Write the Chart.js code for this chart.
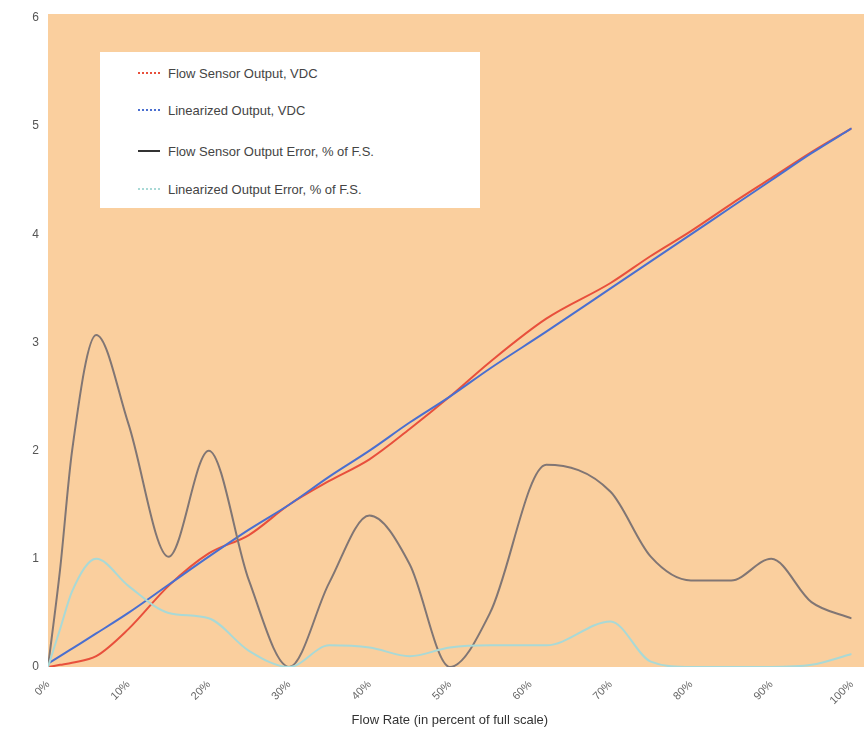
<!DOCTYPE html>
<html>
<head>
<meta charset="utf-8">
<script src="https://cdn.jsdelivr.net/npm/chart.js@4/dist/chart.umd.min.js"></script>
<style>
    body { margin: 0; background: #fff; }
    .wrap { position: relative; width: 864px; height: 732px; }
    #legendBox {
        position: absolute; left: 100px; top: 52px; width: 380px; height: 156px;
        background: #fff; font-family: "Liberation Sans", Arial, sans-serif; font-size: 13px; color: #444;
    }
    .lgItem { position: absolute; left: 38px; height: 16px; display: flex; align-items: center; }
    .lgLine { width: 22px; height: 0; margin-right: 8px; border-top-width: 2px; }
</style>
</head>
<body>
<div class="wrap">
    <canvas id="c" width="864" height="732"></canvas>
    <div id="legendBox"></div>
</div>
<script>
/* x positions, percent of full scale */
const flowPct = [0, 1.5, 3, 6, 10, 15, 20, 25, 30, 35, 40, 45, 50, 55, 62, 70, 75, 80, 85, 90, 95, 100];

/* series values */
const sensorVdc = [0.0, 0.02, 0.04, 0.1, 0.35, 0.75, 1.05, 1.22, 1.5, 1.72, 1.92, 2.2, 2.5, 2.82, 3.22, 3.55, 3.8, 4.03, 4.28, 4.52, 4.76, 4.98];
const linearVdc = [0.03, 0.1, 0.17, 0.31, 0.5, 0.76, 1.02, 1.27, 1.5, 1.76, 2.0, 2.26, 2.5, 2.76, 3.1, 3.5, 3.75, 4.0, 4.25, 4.5, 4.75, 4.98];
const sensorErr = [0, 0.9, 2.0, 3.07, 2.25, 1.02, 2.0, 0.8, 0.0, 0.78, 1.4, 0.95, 0.0, 0.5, 1.87, 1.62, 1.02, 0.8, 0.8, 1.0, 0.6, 0.45];
const linearErr = [0, 0.35, 0.7, 1.0, 0.75, 0.5, 0.45, 0.15, 0.0, 0.2, 0.18, 0.1, 0.18, 0.2, 0.2, 0.42, 0.05, 0.0, 0.0, 0.0, 0.02, 0.12];

const seriesLabels = [
    "Flow Sensor Output, VDC",
    "Linearized Output, VDC",
    "Flow Sensor Output Error, % of F.S.",
    "Linearized Output Error, % of F.S."
];
const seriesColors = ["#e8503c", "#4a6fd0", "#817674", "#a9d9d6"];

const yTicks = [0, 1, 2, 3, 4, 5, 6];
const xTitle = "Flow Rate (in percent of full scale)";

const toPoints = vals => vals.map((v, i) => ({ x: flowPct[i], y: v }));
const allSeries = [sensorVdc, linearVdc, sensorErr, linearErr];

/* peach plot background */
const plotBg = {
    id: "plotBg",
    beforeDraw(chart) {
        const a = chart.chartArea;
        const ctx = chart.ctx;
        ctx.save();
        ctx.fillStyle = "#facf9e";
        ctx.fillRect(a.left, a.top - 4, chart.width - a.left, a.bottom - a.top + 4);
        ctx.restore();
    }
};

Chart.defaults.font.family = '"Liberation Sans", Arial, sans-serif';

const chart = new Chart(document.getElementById("c"), {
    type: "line",
    data: {
        datasets: [3, 2, 1, 0].map(i => ({
            label: seriesLabels[i],
            data: toPoints(allSeries[i]),
            borderColor: seriesColors[i],
            borderWidth: 2,
            pointRadius: 0,
            cubicInterpolationMode: "monotone",
            fill: false
        }))
    },
    options: {
        responsive: false,
        animation: false,
        layout: { padding: { top: 18, right: 2, left: 0, bottom: 0 } },
        plugins: { legend: { display: false }, tooltip: { enabled: false } },
        scales: {
            x: {
                type: "linear",
                min: 0, max: 100,
                grid: { display: false },
                border: { display: false },
                ticks: {
                    stepSize: 10,
                    maxRotation: 45, minRotation: 45,
                    color: "#666", font: { size: 11 },
                    callback: v => v + "%"
                },
                title: { display: true, text: xTitle, color: "#333", font: { size: 13 }, padding: { top: 6 } },
                afterFit: s => { s.height = 65; }
            },
            y: {
                min: 0, max: 6,
                grid: { display: false },
                border: { display: false },
                afterBuildTicks: s => { s.ticks = yTicks.map(v => ({ value: v })); },
                ticks: { color: "#555", font: { size: 12 }, padding: 1 },
                afterFit: s => { s.width = 48; }
            }
        }
    },
    plugins: [plotBg]
});

/* legend box built from the same labels/colours */
const box = document.getElementById("legendBox");
const rowTops = [13, 50, 91, 129];
seriesLabels.forEach((lab, i) => {
    const row = document.createElement("div");
    row.className = "lgItem";
    row.style.top = rowTops[i] + "px";
    const ln = document.createElement("span");
    ln.className = "lgLine";
    ln.style.borderTopStyle = i === 2 ? "solid" : "dotted";
    ln.style.borderTopColor = i === 2 ? "#333" : seriesColors[i];
    const tx = document.createElement("span");
    tx.textContent = lab;
    row.appendChild(ln);
    row.appendChild(tx);
    box.appendChild(row);
});
</script>
</body>
</html>
